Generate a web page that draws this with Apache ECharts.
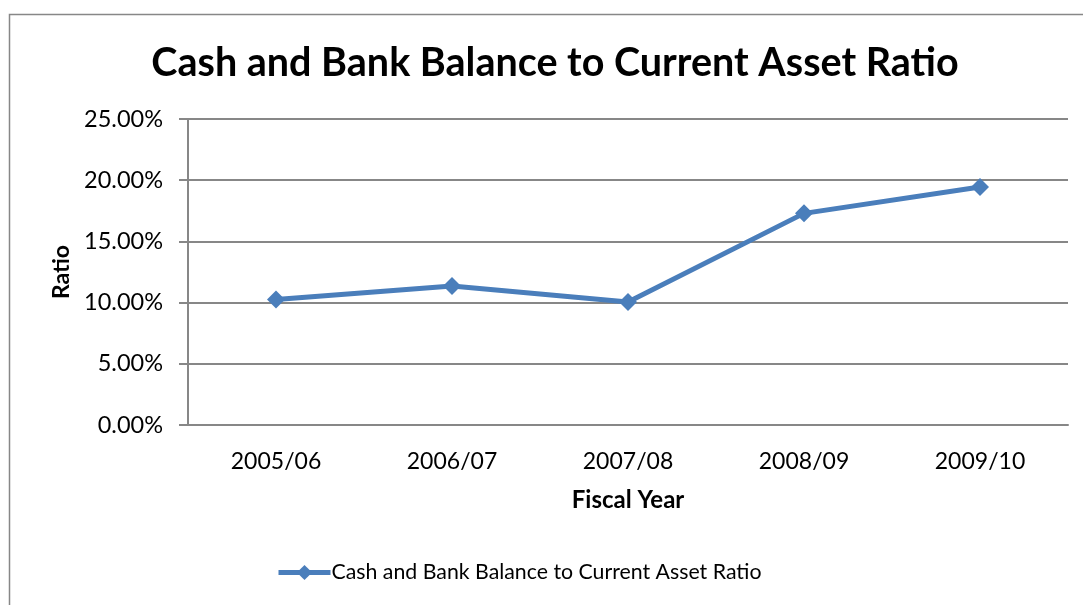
<!DOCTYPE html>
<html>
<head>
<meta charset="utf-8">
<script src="https://cdn.jsdelivr.net/npm/echarts@6/dist/echarts.min.js"></script>
<style>
  html, body { margin: 0; padding: 0; background: #fff; }
  #chart { width: 1083px; height: 605px; }
</style>
</head>
<body>
<div id="chart"></div>
<script>
var years = ["2005/06", "2006/07", "2007/08", "2008/09", "2009/10"];
var ratio = [10.25, 11.36, 10.05, 17.29, 19.45];
var seriesName = "Cash and Bank Balance to Current Asset Ratio";

var chart = echarts.init(document.getElementById("chart"));
var font = "Lato, 'Open Sans', sans-serif";

var option = {
    animation: false,
    backgroundColor: "#fff",
    textStyle: { fontFamily: font },
    graphic: [{
        // outer chart border
        type: "rect",
        shape: { x: 9.5, y: 14.5, width: 1200, height: 700 },
        style: { fill: "none", stroke: "#878787", lineWidth: 1.5 }
    }],
    title: {
        text: "Cash and Bank Balance to Current Asset Ratio",
        left: 550,
        top: 38,
        textAlign: "center",
        textStyle: { fontFamily: font, fontSize: 39.5, fontWeight: "bold", color: "#000" }
    },
    legend: {
        data: [seriesName],
        left: 276,
        top: 562,
        padding: 0,
        itemWidth: 52,
        itemHeight: 19,
        itemGap: 3,
        lineStyle: { width: 5 },
        textStyle: { fontFamily: font, fontSize: 21.3, color: "#000", padding: [0, 0, 0, -4] }
    },
    grid: { left: 188, right: 15, top: 119, bottom: 180 },
    xAxis: {
        type: "category",
        data: years,
        boundaryGap: true,
        name: "Fiscal Year",
        nameLocation: "middle",
        nameGap: 63,
        nameTextStyle: { fontFamily: font, fontSize: 24, fontWeight: "bold", color: "#000" },
        axisLine: { lineStyle: { color: "#878787", width: 2 } },
        axisTick: { show: false },
        axisLabel: { fontFamily: font, fontSize: 23, color: "#000", margin: 25 }
    },
    yAxis: {
        type: "value",
        min: 0,
        max: 25,
        interval: 5,
        name: "Ratio",
        nameLocation: "middle",
        nameGap: 114,
        nameRotate: 90,
        nameTextStyle: { fontFamily: font, fontSize: 23, fontWeight: "bold", color: "#000" },
        axisLine: { show: true, lineStyle: { color: "#878787", width: 2 } },
        axisTick: { show: true, length: 9, lineStyle: { color: "#878787", width: 2 } },
        splitLine: { lineStyle: { color: "#878787", width: 2 } },
        axisLabel: {
            fontFamily: font, fontSize: 23.5, color: "#000", margin: 25,
            formatter: function (v) { return v.toFixed(2) + "%"; }
        }
    },
    series: [{
        name: seriesName,
        type: "line",
        data: ratio,
        symbol: "diamond",
        symbolSize: 18,
        lineStyle: { color: "#4a7ebb", width: 5 },
        itemStyle: { color: "#4a7ebb" }
    }]
};
chart.setOption(option);
</script>
</body>
</html>
